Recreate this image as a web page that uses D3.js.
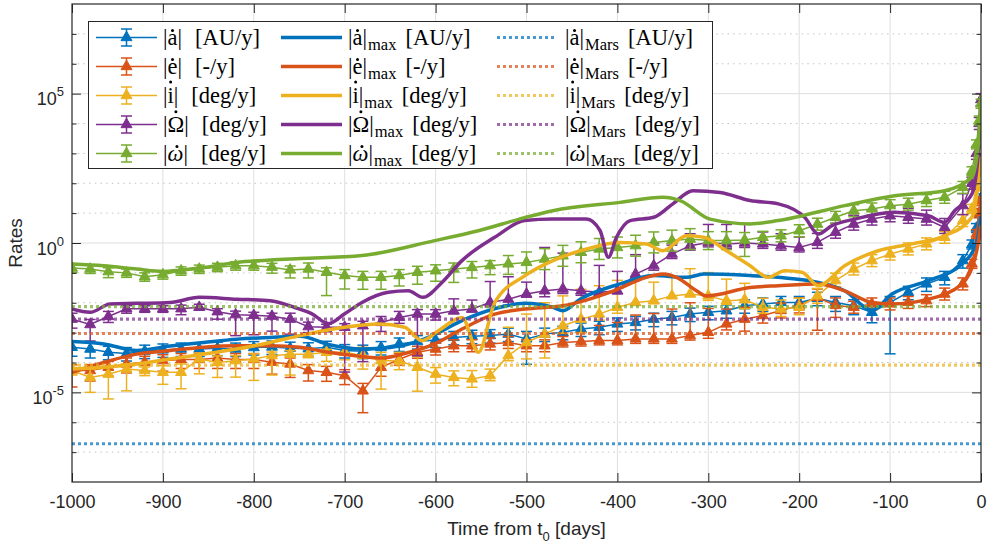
<!DOCTYPE html>
<html>
<head>
<meta charset="utf-8">
<script src="https://cdn.jsdelivr.net/npm/d3@7"></script>
<style>
body { margin: 0; background: #fff; }
text { font-family: "Liberation Sans", Arial, sans-serif; fill: #262626; }
.leg text { font-family: "Liberation Serif", "Times New Roman", serif; fill: #000; }
</style>
</head>
<body>
<div id="chart"></div>
<script>
// all rates are stored as log10 values

// sample times of the error-bar series (days from t0)
var days = [-1000,-980,-960,-940,-920,-900,-880,-860,-840,-820,
            -800,-780,-760,-740,-720,-700,-680,-660,-640,-620,
            -600,-580,-560,-540,-520,-500,-480,-460,-440,-420,
            -400,-380,-360,-340,-320,-300,-280,-260,-240,-220,
            -200,-180,-160,-140,-120,-100,-80,-60,-40,-20,
            -10,-5,-2,0];

// |a dot| [AU/y]
var aLog = [-3.49,-3.55,-3.66,-3.70,-3.62,-3.58,-3.55,-3.55,-3.52,-3.55,
            -3.50,-3.48,-3.52,-3.54,-3.49,-3.60,-3.62,-3.50,-3.38,-3.30,
            -3.25,-3.16,-3.12,-3.10,-3.05,-3.21,-3.05,-2.99,-2.88,-2.82,
            -2.71,-2.66,-2.55,-2.49,-2.38,-2.32,-2.27,-2.10,-2.04,-1.99,
            -1.99,-1.85,-1.99,-2.10,-2.32,-1.99,-1.65,-1.37,-1.15,-0.59,
            -0.05,0.5,1.0,1.5];
var aUp = [.2,.2,.2,.2,.2,.2,.2,.2,.2,.2, .2,.2,.2,.2,.2,.2,.2,.2,.2,.2,
           .2,.2,.2,.2,.2,.25,.2,.2,.2,.2, .2,.2,.2,.2,.2,.2,.2,.2,.2,.2,
           .2,.2,.2,.2,.3,.2,.2,.2,.2,.2, .15,.15,.15,.15];
var aDn = [.3,.3,.25,.25,.25,.25,.25,.25,.25,.25, .25,.25,.25,.25,.25,.25,.25,.25,.25,.25,
           .25,.25,.25,.25,.25,.85,.25,.25,.25,.25, .25,.25,.25,.25,.25,.25,.25,.25,.25,.25,
           .25,.25,.3,.3,.35,1.72,.25,.25,.25,.25, .15,.15,.15,.15];

// |e dot| [-/y]
var eLog = [-4.27,-4.27,-4.16,-4.05,-3.99,-3.94,-3.90,-3.90,-3.85,-3.90,
            -3.90,-3.99,-4.05,-4.27,-4.33,-4.44,-4.95,-4.16,-3.89,-3.66,
            -3.55,-3.44,-3.44,-3.38,-3.33,-3.44,-3.44,-3.33,-3.30,-3.26,
            -3.26,-3.21,-3.21,-3.21,-3.10,-2.99,-2.71,-2.55,-2.43,-2.26,
            -2.09,-1.82,-2.09,-2.15,-2.04,-2.04,-1.99,-1.93,-1.71,-1.37,
            -0.7,0.3,1.0,1.4];
var eUp = [.2,.2,.2,.2,.2,.2,.2,.2,.2,.2, .2,.2,.2,.2,.2,.2,.25,.25,.2,.2,
           .2,.2,.2,.2,.2,.2,.2,.2,.3,.5, .6,.8,.85,1.0,1.1,.8,.5,.4,.25,.25,
           .25,.28,.25,.2,.2,.2,.2,.2,.2,.2, .15,.15,.15,.15];
var eDn = [.55,.35,.3,.3,.3,.35,.3,.3,.35,.3, .3,.4,.45,.35,.3,.3,.73,.3,.2,.2,
           .2,.2,.2,.2,.2,.2,.2,.15,.15,.15, .15,.15,.15,.15,.15,.2,.2,.4,.25,.25,
           .25,1.1,.4,.2,.2,.2,.2,.2,.2,.2, .15,.15,.15,.15];

// |i dot| [deg/y]
var iLog = [-4.27,-4.50,-4.39,-4.22,-4.27,-4.33,-4.33,-3.88,-4.00,-3.94,
            -3.88,-3.77,-3.72,-3.72,-3.66,-3.66,-3.77,-3.94,-3.94,-4.16,
            -4.39,-4.50,-4.55,-4.44,-3.77,-3.33,-3.05,-2.77,-2.55,-2.38,
            -2.15,-1.99,-1.93,-1.77,-1.71,-1.77,-1.93,-1.90,-2.15,-2.21,
            -2.15,-1.77,-1.26,-0.87,-0.59,-0.37,-0.20,-0.03,0.19,0.75,
            1.14,1.9,2.4,2.7];
var iUp = [.17,.28,.22,.17,.12,.22,.28,.2,.22,.17, .17,.12,.12,.17,.1,.17,.28,.28,.28,.35,
           .22,.22,.28,.22,.95,.95,1.05,1.0,1.0,.95, .9,.85,.62,.62,.85,.78,.72,.55,.3,.3,
           .3,.25,.25,.2,.2,.2,.2,.2,.2,.2, .15,.15,.15,.15];
var iDn = [.15,.5,.83,.73,.17,.4,.55,.5,.5,.55, .72,.65,.7,.12,.3,.25,.45,.95,.3,.8,
           .3,.28,.28,.17,.17,.55,.8,.25,.45,.2, .2,.1,.1,.05,.05,.15,.12,.3,.2,.25,
           .25,.25,.2,.2,.2,.2,.2,.2,.2,.2, .15,.15,.15,.15];

// |Omega dot| [deg/y]
var OmLog = [-2.55,-2.73,-2.46,-2.20,-2.20,-2.20,-2.20,-2.15,-2.30,-2.40,
             -2.42,-2.45,-2.55,-2.80,-2.82,-2.82,-2.77,-2.66,-2.49,-2.38,
             -2.38,-2.27,-2.21,-1.99,-1.88,-1.71,-1.60,-1.54,-1.60,-1.65,
             -1.60,-1.04,-0.76,-0.37,-0.09,0.02,-0.03,0.00,-0.03,-0.09,
             -0.15,0.02,0.36,0.63,0.80,0.91,0.86,0.80,0.52,1.25,
             2.0,3.0,4.0,4.8];
var OmUp = [.2,.17,.17,.1,.1,.1,.12,.1,.1,.12, .1,.1,.2,.15,.1,.12,.15,.2,.2,.15,
            .15,.4,.3,.7,.75,.4,1.45,1.2,1.2,.9, .65,.65,.75,.3,.4,.6,.65,.65,.4,.4,
            .35,.3,.3,.3,.3,.3,.3,.3,.3,.4, .2,.2,.2,.2];
var OmDn = [.3,.55,.2,.15,.12,.12,.2,.1,.25,.7, .65,.5,.5,.2,.15,1.5,1.2,.3,.2,1.4,
            .2,.1,.1,.15,.2,.1,.2,.15,.15,.1, .1,.2,.15,.15,.15,.15,.15,.15,.15,.15,
            .15,.2,.2,.2,.2,.2,.2,.2,.2,.3, .2,.2,.2,.2];

// |omega dot| [deg/y]
var omLog = [-0.84,-0.87,-0.96,-1.00,-1.13,-1.06,-0.93,-0.87,-0.81,-0.76,
             -0.76,-0.81,-0.90,-0.87,-0.98,-1.09,-1.15,-1.15,-1.09,-0.98,
             -0.93,-0.87,-0.82,-0.76,-0.70,-0.65,-0.54,-0.43,-0.31,-0.20,
             -0.15,-0.09,0.02,0.08,0.13,0.08,0.08,0.10,0.19,0.24,
             0.41,0.63,0.86,1.08,1.14,1.25,1.30,1.42,1.53,1.86,
             2.4,3.3,4.1,4.66];
var omUp = [.13,.13,.13,.13,.13,.13,.13,.13,.13,.13, .13,.13,.13,.2,.15,.2,.2,.2,.2,.2,
            .2,.2,.2,.17,.28,.35,.35,.35,.35,.35, .35,.35,.35,.35,.35,.3,.3,.25,.2,.2,
            .2,.2,.2,.2,.2,.2,.2,.2,.2,.2, .15,.15,.15,.15];
var omDn = [.15,.15,.2,.15,.15,.15,.15,.15,.15,.15, .15,.2,.27,.3,.78,.45,.4,.4,.35,.4,
            .35,.45,.35,.3,.35,.35,.35,.35,.35,.35, .35,.35,.35,.35,.35,.3,.3,.55,.2,.2,
            .2,.2,.2,.2,.2,.2,.2,.2,.2,.2, .15,.15,.15,.15];

// maximum rates (thick lines)
var aMaxDays = [-1000,-965,-929,-892,-855,-819,-782,-749,-718,-681,-650,-620,-600,-571,-535,-502,
                -471,-460,-441,-397,-360,-324,-305,-254,-223,-179,-150,-120,-98,-58,-21,-5,0];
var aMaxLog  = [-3.30,-3.38,-3.60,-3.45,-3.33,-3.22,-3.16,-3.12,-3.40,-3.55,-3.50,-3.30,-3.05,-2.60,-2.20,-2.02,
                -2.15,-2.27,-1.88,-1.37,-1.09,-1.15,-1.04,-1.09,-1.15,-1.32,-1.60,-2.25,-1.71,-1.26,-0.70,0.0,0.9];

var eMaxDays = [-1000,-965,-929,-892,-855,-819,-782,-749,-718,-681,-659,-634,-601,-571,-535,-502,
                -460,-404,-368,-350,-335,-313,-302,-254,-223,-179,-150,-120,-98,-58,-21,-5,0];
var eMaxLog  = [-4.33,-4.00,-3.72,-3.60,-3.49,-3.44,-3.44,-3.49,-3.66,-3.80,-3.85,-3.70,-3.38,-2.88,-2.38,-2.21,
                -2.10,-1.60,-1.15,-1.04,-1.15,-1.60,-1.77,-1.49,-1.43,-1.37,-1.60,-1.99,-2.04,-1.88,-1.37,-0.3,0.6];

var iMaxDays = [-1000,-965,-929,-892,-855,-819,-782,-749,-700,-663,-634,-615,-597,-571,-553,-535,-502,
                -471,-434,-397,-368,-350,-324,-305,-280,-254,-234,-216,-197,-179,-150,-113,-76,-40,-10,-3,0];
var iMaxLog  = [-4.22,-4.16,-4.05,-3.88,-3.72,-3.55,-3.33,-3.10,-2.82,-2.71,-2.82,-3.27,-2.94,-2.49,-3.66,-2.00,-1.10,
                -0.59,-0.20,0.02,-0.03,-0.26,0.24,0.19,-0.26,-0.76,-1.15,-0.93,-0.98,-1.43,-0.76,-0.26,-0.03,0.24,0.86,2.0,2.9];

var OmMaxDays = [-1000,-980,-958,-929,-892,-860,-819,-782,-755,-736,-718,-700,-681,-652,-630,-614,-593,-571,
                 -535,-502,-471,-434,-419,-410,-401,-386,-360,-339,-317,-287,-254,-223,-194,-179,-164,-139,
                 -95,-58,-40,-29,-10,-3,0];
var OmMaxLog  = [-2.21,-2.32,-2.04,-2.02,-1.99,-1.82,-1.88,-1.93,-2.16,-2.37,-2.70,-2.37,-1.99,-1.65,-1.60,-1.82,-1.32,-0.59,
                 0.19,0.75,0.80,0.80,0.41,-0.48,0.19,0.75,0.86,1.31,1.75,1.69,1.42,1.31,0.86,0.30,0.58,0.80,
                 1.03,0.91,0.69,1.08,1.64,3.0,5.0];

var omMaxDays = [-1000,-965,-929,-900,-881,-855,-819,-782,-749,-681,-601,-553,-502,-471,-397,-350,-331,
                 -298,-254,-223,-150,-95,-40,-10,-3,0];
var omMaxLog  = [-0.70,-0.76,-0.87,-0.95,-0.91,-0.82,-0.65,-0.57,-0.52,-0.42,0.08,0.41,0.85,1.08,1.36,1.53,1.42,
                 0.80,0.64,0.75,1.25,1.58,1.75,2.2,3.3,5.0];

// Mars reference rates (log10)
var marsLog = [-6.72, -3.03, -4.09, -2.55, -2.13];

var colors = ["#0072BD", "#D95319", "#EDB120", "#7E2F8E", "#77AC30"];
var symbols = ["a", "e", "i", "\u03A9", "\u03C9"];
var dotHeight = [0.64, 0.64, 0.93, 0.9, 0.64];   // accent dot height, em
var units = ["[AU/y]", "[-/y]", "[deg/y]", "[deg/y]", "[deg/y]"];
var xTicks = [-1000,-900,-800,-700,-600,-500,-400,-300,-200,-100,0];
var yMajor = [-5, 0, 5];

var P = function(v) { return Math.pow(10, v); };

// Set Margins
var margin = {top: 4, right: 14, bottom: 64, left: 72},
    width = 995 - margin.left - margin.right,
    height = 546 - margin.top - margin.bottom;

var svg = d3.select("#chart")
  .append("svg")
    .attr("width", width + margin.left + margin.right)
    .attr("height", height + margin.top + margin.bottom);

var g = svg.append("g")
    .attr("transform", "translate(" + margin.left + "," + margin.top + ")");

var x = d3.scaleLinear().domain([-1000, 0]).range([0, width]);
var y = d3.scaleLog().domain([1e-8, 1e8]).range([height, 0]);

var decades = d3.range(-7, 8).filter(function(k) { return yMajor.indexOf(k) < 0; });

// grid
g.append("g").selectAll("line").data(xTicks.slice(1, -1)).enter().append("line")
  .attr("x1", function(d) { return x(d); }).attr("x2", function(d) { return x(d); })
  .attr("y1", 0).attr("y2", height)
  .attr("stroke", "#dfdfdf").attr("stroke-width", 1);
g.append("g").selectAll("line").data(yMajor).enter().append("line")
  .attr("x1", 0).attr("x2", width)
  .attr("y1", function(d) { return y(P(d)); }).attr("y2", function(d) { return y(P(d)); })
  .attr("stroke", "#dfdfdf").attr("stroke-width", 1);
g.append("g").selectAll("line").data(decades).enter().append("line")
  .attr("x1", 0).attr("x2", width)
  .attr("y1", function(d) { return y(P(d)); }).attr("y2", function(d) { return y(P(d)); })
  .attr("stroke", "#c4c4c4").attr("stroke-width", 1).attr("stroke-dasharray", "1.5,4.2");

svg.append("clipPath").attr("id", "clip").append("rect")
  .attr("width", width).attr("height", height);
var plot = g.append("g").attr("clip-path", "url(#clip)");

var line = d3.line()
  .x(function(d) { return x(d.d); })
  .y(function(d) { return y(d.v); });

var errSeries = [
  {val: aLog, up: aUp, dn: aDn},
  {val: eLog, up: eUp, dn: eDn},
  {val: iLog, up: iUp, dn: iDn},
  {val: OmLog, up: OmUp, dn: OmDn},
  {val: omLog, up: omUp, dn: omDn}
];
var maxSeries = [
  {days: aMaxDays, val: aMaxLog},
  {days: eMaxDays, val: eMaxLog},
  {days: iMaxDays, val: iMaxLog},
  {days: OmMaxDays, val: OmMaxLog},
  {days: omMaxDays, val: omMaxLog}
];

var tri = d3.symbol().type(d3.symbolTriangle).size(52);
var capW = 5.5;

// error bar series
errSeries.forEach(function(s, k) {
  var pts = days.map(function(d, i) {
    return {d: d, v: P(s.val[i]), lo: P(s.val[i] - s.dn[i]), hi: P(s.val[i] + s.up[i])};
  });
  var sg = plot.append("g").attr("stroke", colors[k]).attr("stroke-width", 1.5);
  sg.append("path").datum(pts).attr("fill", "none").attr("d", line);
  sg.selectAll("line.bar").data(pts).enter().append("line")
    .attr("x1", function(d) { return x(d.d); }).attr("x2", function(d) { return x(d.d); })
    .attr("y1", function(d) { return y(d.lo); }).attr("y2", function(d) { return y(d.hi); });
  ["lo", "hi"].forEach(function(key) {
    sg.selectAll("line.cap" + key).data(pts).enter().append("line")
      .attr("x1", function(d) { return x(d.d) - capW; }).attr("x2", function(d) { return x(d.d) + capW; })
      .attr("y1", function(d) { return y(d[key]); }).attr("y2", function(d) { return y(d[key]); });
  });
  sg.selectAll("path.mk").data(pts).enter().append("path")
    .attr("d", tri).attr("fill", colors[k]).attr("stroke-width", 1)
    .attr("transform", function(d) { return "translate(" + x(d.d) + "," + y(d.v) + ")"; });
});

// max lines
var maxLine = d3.line()
  .curve(d3.curveMonotoneX)
  .x(function(d) { return x(d.d); })
  .y(function(d) { return y(d.v); });
maxSeries.forEach(function(s, k) {
  var pts = s.days.map(function(d, i) { return {d: d, v: P(s.val[i])}; });
  plot.append("path").datum(pts)
    .attr("fill", "none").attr("stroke", colors[k]).attr("stroke-width", 3.5)
    .attr("stroke-linejoin", "round").attr("d", maxLine);
});

// Mars lines
plot.append("g").selectAll("line").data(marsLog).enter().append("line")
  .attr("x1", 0).attr("x2", width)
  .attr("y1", function(d) { return y(P(d)); }).attr("y2", function(d) { return y(P(d)); })
  .attr("stroke", function(d, k) { return colors[k]; })
  .attr("stroke-opacity", 0.72)
  .attr("stroke-width", 3.2).attr("stroke-dasharray", "3,3");

// axes (ticks inward, box on)
var axisCol = "#262626";
function styleAxis(sel) {
  sel.select(".domain").remove();
  sel.selectAll(".tick line").attr("stroke", axisCol);
  sel.selectAll(".tick text").attr("fill", axisCol).style("font-size", "18px");
}
g.append("g").attr("transform", "translate(0," + height + ")")
  .call(d3.axisBottom(x).tickValues(xTicks).tickSizeInner(-9).tickSizeOuter(0).tickPadding(13)
        .tickFormat(function(d) { return String(d); }))
  .call(styleAxis);
g.append("g")
  .call(d3.axisTop(x).tickValues(xTicks).tickSizeInner(-9).tickSizeOuter(0).tickFormat(""))
  .call(styleAxis);
[d3.axisLeft, d3.axisRight].forEach(function(ax, j) {
  var off = j === 0 ? 0 : width;
  g.append("g").attr("transform", "translate(" + off + ",0)")
    .call(ax(y).tickValues(yMajor.map(P)).tickSizeInner(-9).tickSizeOuter(0).tickFormat(""))
    .call(styleAxis);
  g.append("g").attr("transform", "translate(" + off + ",0)")
    .call(ax(y).tickValues(decades.map(P)).tickSizeInner(-4.5).tickSizeOuter(0).tickFormat(""))
    .call(styleAxis);
});
g.append("rect").attr("width", width).attr("height", height)
  .attr("fill", "none").attr("stroke", axisCol).attr("stroke-width", 1.2);

// y tick labels 10^n
var yl = g.append("g").selectAll("text").data(yMajor).enter().append("text")
  .attr("x", -8).attr("y", function(d) { return y(P(d)) + 11.5; })
  .attr("text-anchor", "end").style("font-size", "18px");
yl.append("tspan").text("10");
yl.append("tspan").attr("dy", -9).style("font-size", "13px").text(function(d) { return String(d); });

// axis titles
var xt = svg.append("text")
  .attr("x", margin.left + width / 2).attr("y", 535)
  .attr("text-anchor", "middle").style("font-size", "19px");
xt.append("tspan").text("Time from t");
xt.append("tspan").attr("dy", 6).style("font-size", "13px").text("0");
xt.append("tspan").attr("dy", -6).text(" [days]");

svg.append("text")
  .attr("transform", "translate(22," + (margin.top + y(1)) + ") rotate(-90)")
  .attr("text-anchor", "middle").style("font-size", "19px").text("Rates");

// legend
var leg = svg.append("g").attr("class", "leg");
leg.append("rect").attr("x", 88.5).attr("y", 21.5).attr("width", 624).attr("height", 147)
  .attr("fill", "#fff").attr("stroke", axisCol).attr("stroke-width", 1);

var fs = 22.5;
function legLabel(tx, ty, k, sub, gap) {
  var base = ty + 7.5;
  var t = leg.append("text").attr("x", tx).attr("y", base).style("font-size", fs + "px");
  t.append("tspan").text("|");
  var sy = t.append("tspan").text(symbols[k]);
  if (k === 4) sy.style("font-style", "italic");
  t.append("tspan").text("|");
  if (sub) {
    t.append("tspan").attr("dy", 4.5).attr("dx", 1).style("font-size", "16.5px").text(sub);
    t.append("tspan").attr("dy", -4.5).attr("dx", gap).text(units[k]);
  } else {
    t.append("tspan").attr("dx", gap).text(units[k]);
  }
  // accent dot over the symbol
  var n = t.node();
  var x0 = n.getStartPositionOfChar(1).x, x1 = n.getEndPositionOfChar(1).x;
  leg.append("circle")
    .attr("cx", (x0 + x1) / 2 + (k === 4 ? 1.5 : 0))
    .attr("cy", base - dotHeight[k] * fs)
    .attr("r", 1.5).attr("fill", "#000");
}

colors.forEach(function(c, k) {
  var ry = 37.5 + k * 29;
  // col 1: errorbar sample
  leg.append("line").attr("x1", 96).attr("x2", 157).attr("y1", ry).attr("y2", ry)
    .attr("stroke", c).attr("stroke-width", 1.5);
  leg.append("line").attr("x1", 126.5).attr("x2", 126.5).attr("y1", ry - 8.5).attr("y2", ry + 8.5)
    .attr("stroke", c).attr("stroke-width", 1.5);
  [ry - 8.5, ry + 8.5].forEach(function(cy) {
    leg.append("line").attr("x1", 126.5 - capW).attr("x2", 126.5 + capW).attr("y1", cy).attr("y2", cy)
      .attr("stroke", c).attr("stroke-width", 1.5);
  });
  leg.append("path").attr("d", tri).attr("fill", c).attr("stroke", c)
    .attr("transform", "translate(126.5," + ry + ")");
  legLabel(163, ry, k, null, 13);
  // col 2: max line
  leg.append("line").attr("x1", 281).attr("x2", 342).attr("y1", ry).attr("y2", ry)
    .attr("stroke", c).attr("stroke-width", 3.5);
  legLabel(348, ry, k, "max", 9);
  // col 3: Mars dotted
  leg.append("line").attr("x1", 497).attr("x2", 557).attr("y1", ry).attr("y2", ry)
    .attr("stroke", c).attr("stroke-opacity", 0.72).attr("stroke-width", 3.2)
    .attr("stroke-dasharray", "3,3");
  legLabel(565, ry, k, "Mars", 9);
});
</script>
</body>
</html>
